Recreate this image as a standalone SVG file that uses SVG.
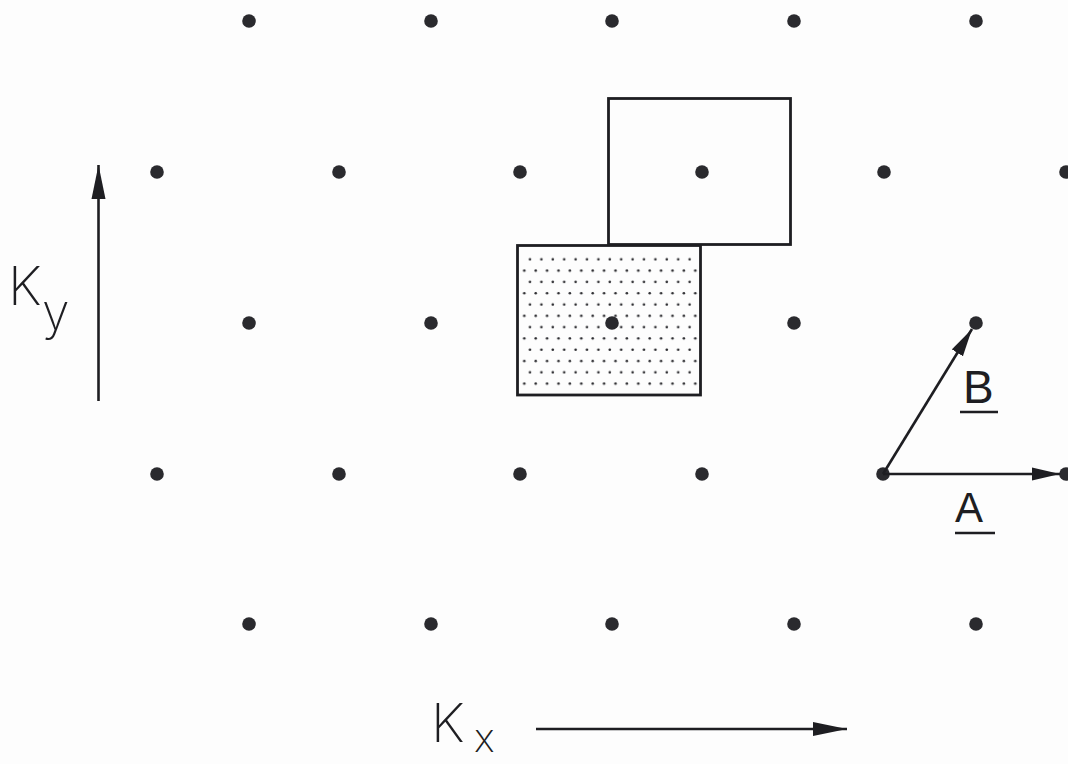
<svg xmlns="http://www.w3.org/2000/svg" width="1068" height="764" viewBox="0 0 1068 764">
<style>
.dot{fill:#2a2a2e}
.box{fill:none;stroke:#1e1e22;stroke-width:2.8}
.ax{stroke:#1e1e22;stroke-width:2.6;fill:none}
.ul{stroke:#1e1e22;stroke-width:2.4;fill:none}
.lbl{font-family:Inter,"Liberation Sans",sans-serif;font-weight:200;fill:#1e1e22}
.vec{font-family:"Liberation Sans",sans-serif;font-weight:normal;fill:#1e1e22}
</style>
<defs>
<marker id="ah" markerUnits="userSpaceOnUse" markerWidth="34" markerHeight="15" refX="34" refY="7.5" orient="auto" viewBox="0 0 34 15">
<path d="M0,0.5 L34,7.5 L0,14.5 z" fill="#1e1e22"/>
</marker>
<marker id="ahs" markerUnits="userSpaceOnUse" markerWidth="28" markerHeight="14" refX="28" refY="7" orient="auto" viewBox="0 0 28 14">
<path d="M0,0.5 L28,7 L0,13.5 z" fill="#1e1e22"/>
</marker>
<pattern id="stip" patternUnits="userSpaceOnUse" x="521.65" y="253.65" width="11.4" height="22.6">
<circle cx="8.35" cy="5.65" r="1.3" fill="#2a2a2e"/>
<circle cx="2.65" cy="16.95" r="1.3" fill="#2a2a2e"/>
</pattern>
</defs>
<rect width="1068" height="764" fill="#fdfdfd"/>
<g id="cell-shaded">
<rect x="521" y="252" width="177" height="139" fill="url(#stip)"/>
<rect class="box" x="517.5" y="245.5" width="183" height="149.5"/>
</g>
<g id="cell-open">
<rect class="box" x="608.5" y="98.5" width="182" height="146"/>
</g>
<g id="lattice">
<circle class="dot" cx="249" cy="21" r="6.8"/>
<circle class="dot" cx="431" cy="21" r="6.8"/>
<circle class="dot" cx="612" cy="21" r="6.8"/>
<circle class="dot" cx="794" cy="21" r="6.8"/>
<circle class="dot" cx="976" cy="21" r="6.8"/>
<circle class="dot" cx="157" cy="172" r="6.8"/>
<circle class="dot" cx="339" cy="172" r="6.8"/>
<circle class="dot" cx="520" cy="172" r="6.8"/>
<circle class="dot" cx="702" cy="172" r="6.8"/>
<circle class="dot" cx="884" cy="172" r="6.8"/>
<circle class="dot" cx="1066" cy="172" r="6.8"/>
<circle class="dot" cx="249" cy="323" r="6.8"/>
<circle class="dot" cx="431" cy="323" r="6.8"/>
<circle class="dot" cx="612" cy="323" r="6.8"/>
<circle class="dot" cx="794" cy="323" r="6.8"/>
<circle class="dot" cx="976" cy="323" r="6.8"/>
<circle class="dot" cx="157" cy="474" r="6.8"/>
<circle class="dot" cx="339" cy="474" r="6.8"/>
<circle class="dot" cx="520" cy="474" r="6.8"/>
<circle class="dot" cx="702" cy="474" r="6.8"/>
<circle class="dot" cx="883" cy="474" r="6.8"/>
<circle class="dot" cx="1066" cy="474" r="6.8"/>
<circle class="dot" cx="249" cy="624" r="6.8"/>
<circle class="dot" cx="431" cy="624" r="6.8"/>
<circle class="dot" cx="612" cy="624" r="6.8"/>
<circle class="dot" cx="794" cy="624" r="6.8"/>
<circle class="dot" cx="976" cy="624" r="6.8"/>
</g>
<g id="connectors">
<line class="ax" x1="98.5" y1="401" x2="98.5" y2="165" marker-end="url(#ah)"/>
<line class="ax" x1="536" y1="729" x2="847" y2="729" marker-end="url(#ah)"/>
<line class="ax" x1="883" y1="474" x2="1060" y2="474" marker-end="url(#ahs)"/>
<line class="ax" x1="883" y1="474" x2="972" y2="329" marker-end="url(#ahs)"/>
</g>
<g id="labels">
<text class="lbl" x="8" y="305" font-size="54">K</text>
<text class="lbl" x="42" y="330" font-size="50">y</text>
<text class="lbl" x="431" y="742" font-size="54">K</text>
<text class="lbl" x="474" y="752" font-size="40">x</text>
<text class="vec" x="963" y="403" font-size="46">B</text>
<line class="ul" x1="960" y1="412" x2="998" y2="412"/>
<text class="vec" x="955" y="522" font-size="42">A</text>
<line class="ul" x1="955" y1="533" x2="995" y2="533"/>
</g>
</svg>
